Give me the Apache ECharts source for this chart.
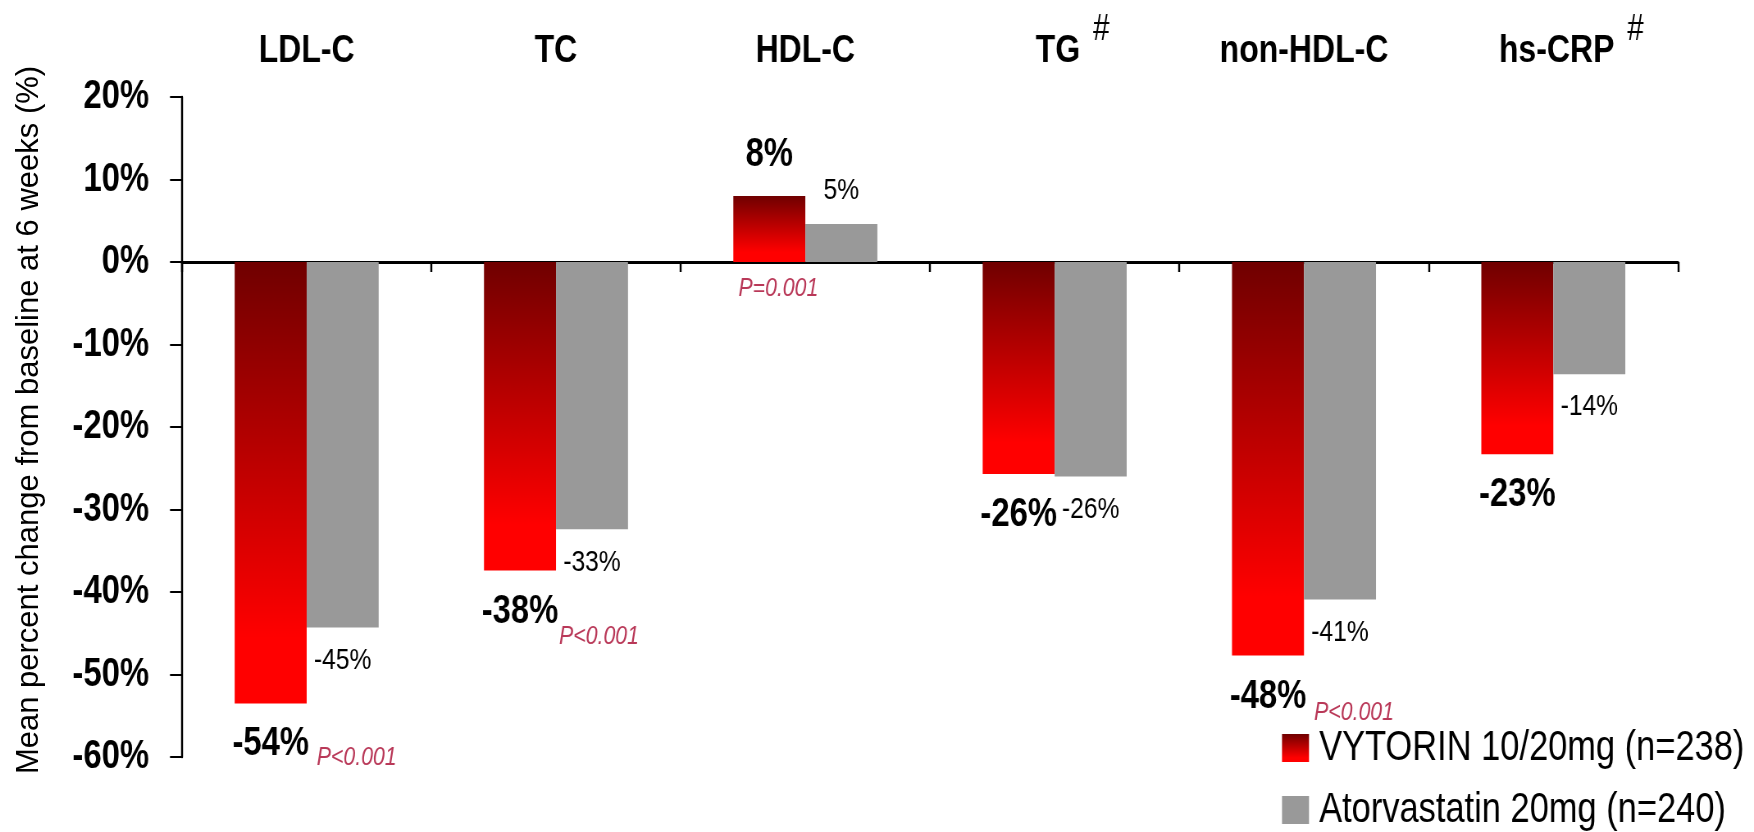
<!DOCTYPE html>
<html><head><meta charset="utf-8">
<script src="https://cdn.jsdelivr.net/npm/echarts@6/dist/echarts.min.js"></script>
<style>
html,body{margin:0;padding:0;background:#fff;overflow:hidden;width:1754px;height:832px}
#wrap{position:relative;width:1754px;height:832px;overflow:hidden}
#c{position:absolute;left:0;top:0;height:832px;transform-origin:0 0}
#n{position:absolute;left:0;top:0;width:90px;height:832px}
</style>
</head><body><div id="wrap"><div id="c"></div><div id="n"></div></div>
<script>
// ---- data ----
const categories = ['LDL-C', 'TC', 'HDL-C', 'TG', 'non-HDL-C', 'hs-CRP'];
const categoryMarks = ['', '', '', '#', '', '#'];
const vytorinValues = [-53.5, -37.4, 8.0, -25.7, -47.7, -23.3];
const vytorinLabels = ['-54%', '-38%', '8%', '-26%', '-48%', '-23%'];
const atorvastatinValues = [-44.3, -32.4, 4.6, -26.0, -40.9, -13.6];
const atorvastatinLabels = ['-45%', '-33%', '5%', '-26%', '-41%', '-14%'];
const pValues = ['P<0.001', 'P<0.001', 'P=0.001', '', 'P<0.001', ''];
const seriesNames = ['VYTORIN 10/20mg (n=238)', 'Atorvastatin 20mg (n=240)'];
const yAxisName = 'Mean percent change from baseline at 6 weeks (%)';
const yMin = -60, yMax = 20, yStep = 10;

// ---- styles ----
// The original uses a condensed (Arial Narrow-like) face; emulate it by
// drawing the chart wider and compressing it horizontally.
const S = 0.82;
const px = v => v / S;            // horizontal size in pre-compression units
const FONT = '"Liberation Sans", Arial, sans-serif';
const pOffsets = [[px(10), 54], [px(3), 66], [px(-67), 27], [0, 0], [px(10), 57], [0, 0]];
const legendTops = [724, 786];

const cDiv = document.getElementById('c');
cDiv.style.width = px(1754) + 'px';
cDiv.style.transform = 'scaleX(' + S + ')';

const chart = echarts.init(cDiv);
const redGrad = new echarts.graphic.LinearGradient(0, 0, 0, 1, [
  { offset: 0, color: '#700000' },
  { offset: 0.85, color: '#ff0000' },
  { offset: 1, color: '#ff0000' }
]);

chart.setOption({
  animation: false,
  backgroundColor: '#fff',
  grid: { left: px(182), right: px(76), top: 97, bottom: 75, containLabel: false, outerBoundsMode: 'none' },
  legend: seriesNames.map((name, i) => ({
    orient: 'vertical', left: px(1282), top: legendTops[i], padding: 0,
    itemWidth: px(27), itemHeight: 28, icon: 'rect',
    textStyle: { fontFamily: FONT, fontSize: 42, color: '#000', lineHeight: 28, padding: [0, 0, 20, px(6)] },
    data: [name]
  })),
  xAxis: [
    {
      type: 'category', data: categories, position: 'bottom',
      axisLine: { onZero: true, lineStyle: { color: '#000', width: 3 } },
      axisTick: { show: true, length: 10, lineStyle: { color: '#000', width: px(2) } },
      axisLabel: { show: false }, splitLine: { show: false }
    },
    {
      type: 'category', data: categories, position: 'top',
      axisLine: { show: false }, axisTick: { show: false }, splitLine: { show: false },
      axisLabel: {
        interval: 0, margin: 46, verticalAlign: 'middle',
        formatter: (v, i) => categoryMarks[i] ? `{tl|${v}}{s|${categoryMarks[i]}}` : `{t|${v}}`,
        rich: {
          t: { fontFamily: FONT, fontWeight: 'bold', fontSize: 39, color: '#000' },
          tl: { fontFamily: FONT, fontWeight: 'bold', fontSize: 39, color: '#000', padding: [0, 0, 0, px(36)] },
          s: { fontFamily: FONT, fontWeight: 'normal', fontSize: 36, color: '#000', padding: [0, 0, 42, px(13)] }
        }
      }
    }
  ],
  yAxis: {
    type: 'value', min: yMin, max: yMax, interval: yStep,
    axisLine: { show: true, lineStyle: { color: '#000', width: px(2) } },
    axisTick: { show: true, length: px(12), lineStyle: { color: '#000', width: 2 } },
    splitLine: { show: false },
    axisLabel: { formatter: v => v + '%', fontFamily: FONT, fontWeight: 'bold', fontSize: 40, color: '#000', margin: px(33) }
  },
  series: [
    {
      name: seriesNames[0], type: 'bar', xAxisIndex: 0, barWidth: px(72), barGap: '0%',
      itemStyle: { color: redGrad },
      data: vytorinValues.map(v => ({ value: v, label: { position: v < 0 ? 'bottom' : 'top' } })),
      label: {
        show: true, formatter: p => vytorinLabels[p.dataIndex],
        fontFamily: FONT, fontWeight: 'bold', fontSize: 40, color: '#000', distance: 21
      }
    },
    {
      name: seriesNames[1], type: 'bar', xAxisIndex: 0, barWidth: px(72), barGap: '0%',
      itemStyle: { color: '#999999' },
      data: atorvastatinValues.map(v => ({ value: v, label: { position: v < 0 ? 'bottom' : 'top' } })),
      label: {
        show: true, formatter: p => atorvastatinLabels[p.dataIndex],
        fontFamily: FONT, fontWeight: 'normal', fontSize: 30, color: '#000', distance: 18
      }
    },
    {
      name: 'p', type: 'scatter', xAxisIndex: 0, symbolSize: 1, silent: true,
      itemStyle: { color: 'rgba(0,0,0,0)' },
      data: pValues.map((t, i) => t ? {
        value: [i, Math.min(vytorinValues[i], 0)], name: t,
        label: { offset: pOffsets[i] }
      } : null).filter(Boolean),
      label: {
        show: true, position: 'inside', align: 'left', verticalAlign: 'middle',
        formatter: p => p.name, fontFamily: FONT, fontStyle: 'italic', fontSize: 26, color: '#a8062e'
      }
    }
  ]
});

// y-axis title: regular-width face, drawn without horizontal compression
const nChart = echarts.init(document.getElementById('n'));
nChart.setOption({
  animation: false,
  graphic: [{
    type: 'text', x: 29, y: 420, rotation: Math.PI / 2, silent: true,
    style: { text: yAxisName, font: '31px "Liberation Sans", Arial, sans-serif', fill: '#000', align: 'center', verticalAlign: 'middle' }
  }]
});
</script></body></html>
